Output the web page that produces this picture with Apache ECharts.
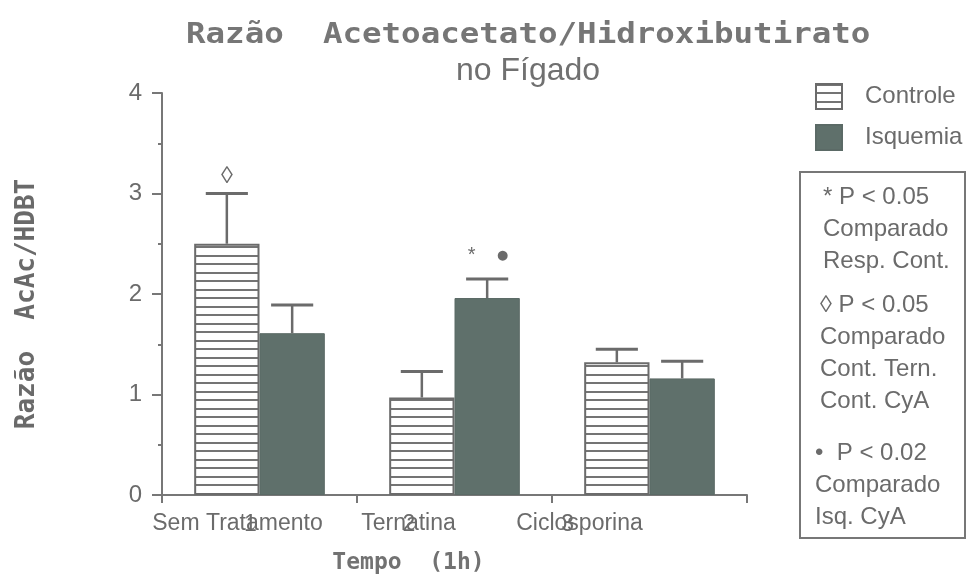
<!DOCTYPE html>
<html>
<head>
<meta charset="utf-8">
<script src="https://cdn.jsdelivr.net/npm/echarts@6/dist/echarts.min.js"></script>
<style>
  html, body { margin: 0; padding: 0; background: #fff; }
  #chart { width: 969px; height: 581px; }
</style>
</head>
<body>
<div id="chart"></div>
<script>
// Treatment groups and the tick numbers printed under them
const categories = ['Sem Tratamento', 'Ternatina', 'Ciclosporina'];
const tickNumbers = ['1', '2', '3'];

// AcAc/HDBT ratio (mean) and error (upper bar) per group
const controle = [2.50, 0.97, 1.32];
const controleErr = [0.50, 0.26, 0.13];
const isquemia = [1.61, 1.96, 1.16];
const isquemiaErr = [0.28, 0.19, 0.17];

// Significance markers drawn above the error bars
const controleMarks = ['◊', '', ''];
const isquemiaMarks = ['', '* ●', ''];

// Notes box text
const noteGroups = [
  ['* P < 0.05', 'Comparado', 'Resp. Cont.'],
  ['◊ P < 0.05', 'Comparado', 'Cont. Tern.', 'Cont. CyA'],
  ['•  P < 0.02', 'Comparado', 'Isq. CyA']
];

const INK = '#6b6b6b';
const SANS = '"Liberation Sans", Arial, sans-serif';
const MONO = '"DejaVu Sans Mono", monospace';

// horizontal-line hatch used for the Controle bars
const hatch = document.createElement('canvas');
hatch.width = 8; hatch.height = 17;
(function () {
  const c = hatch.getContext('2d');
  c.fillStyle = '#ffffff'; c.fillRect(0, 0, 8, 17);
  c.fillStyle = '#747474';
  c.fillRect(0, 0, 8, 2);
  c.fillRect(0, 8, 8, 2);
})();

function errorRenderer(sign, marks) {
  return function (params, api) {
    const i = api.value(0);
    const v = api.value(1);
    const e = api.value(2);
    const band = api.size([1, 0])[0];
    const dx = sign * band * 0.1675;
    const base = api.coord([i, v]);
    const top = api.coord([i, v + e]);
    const x = base[0] + dx;
    const half = band * 0.108;
    const children = [
      { type: 'line', shape: { x1: x, y1: base[1], x2: x, y2: top[1] },
        style: { stroke: INK, lineWidth: 2.5 } },
      { type: 'line', shape: { x1: x - half, y1: top[1], x2: x + half, y2: top[1] },
        style: { stroke: INK, lineWidth: 3 } }
    ];
    const tokens = (marks[params.dataIndex] || '').split(' ').filter(Boolean);
    tokens.forEach(function (t, k) {
      const tx = x + (k - (tokens.length - 1) / 2) * 31;
      let size = 24;
      if (t === '●') size = 23;
      if (t === '*') size = 20;
      children.push({
        type: 'text',
        x: tx, y: top[1] - (tokens.length > 1 ? 23 : 17),
        style: {
          text: t, fill: INK, font: size + 'px ' + SANS,
          align: 'center', verticalAlign: 'middle'
        }
      });
    });
    return { type: 'group', children: children };
  };
}

function noteTexts() {
  const lefts = [823, 820, 815];
  const tops = [197, 305, 453];
  const out = [];
  noteGroups.forEach(function (lines, g) {
    lines.forEach(function (s, k) {
      out.push({
        type: 'text', x: lefts[g], y: tops[g] + k * 32,
        style: { text: s, fill: INK, font: '24px ' + SANS, verticalAlign: 'middle', align: 'left' }
      });
    });
  });
  return out;
}

const chart = echarts.init(document.getElementById('chart'), null, { renderer: 'canvas' });

chart.setOption({
  animation: false,
  backgroundColor: '#ffffff',
  grid: [
    { left: 162, right: 222, top: 93, bottom: 86 },
    { left: 152, right: 304, top: 93, bottom: 86 },
    { left: 171, right: 322, top: 93, bottom: 86 }
  ],
  legend: {
    data: ['Controle', 'Isquemia'],
    orient: 'vertical',
    left: 810, top: 78,
    icon: 'rect',
    itemWidth: 26, itemHeight: 25, itemGap: 14,
    textStyle: { fontFamily: SANS, fontSize: 24, color: INK, padding: [0, 0, 0, 18] }
  },
  xAxis: [
    {
      type: 'category', gridIndex: 0, data: categories,
      axisLine: { show: true, lineStyle: { color: '#777', width: 2 } },
      axisTick: { show: true, length: 8, lineStyle: { color: '#777', width: 2 } },
      axisLabel: { show: false }
    },
    {
      type: 'category', gridIndex: 1, data: categories,
      axisLine: { show: false }, axisTick: { show: false },
      axisLabel: { interval: 0, margin: 17, fontFamily: SANS, fontSize: 23, color: INK },
      name: 'Tempo  (1h)', nameLocation: 'middle', nameGap: 57,
      nameTextStyle: { fontFamily: MONO, fontSize: 23, fontWeight: 'bold', color: '#727272' }
    },
    {
      type: 'category', gridIndex: 2, data: tickNumbers,
      axisLine: { show: false }, axisTick: { show: false },
      axisLabel: { interval: 0, margin: 18, fontFamily: SANS, fontSize: 23, color: INK }
    }
  ],
  yAxis: [
    {
      type: 'value', gridIndex: 0, min: 0, max: 4, interval: 1,
      axisLine: { show: true, lineStyle: { color: '#777', width: 2 } },
      axisTick: { show: true, length: 10, lineStyle: { color: '#777', width: 2 } },
      minorTick: { show: true, splitNumber: 2, length: 4, lineStyle: { color: '#777', width: 2 } },
      splitLine: { show: false },
      axisLabel: { margin: 20, fontFamily: SANS, fontSize: 24, color: INK },
      name: 'Razão  AcAc/HDBT', nameLocation: 'middle', nameGap: 122, nameRotate: 90,
      nameTextStyle: { fontFamily: MONO, fontSize: 26, fontWeight: 'bold', color: '#6a6a6a', padding: [0, 20, 0, 0] }
    },
    { type: 'value', gridIndex: 1, min: 0, max: 4, show: false },
    { type: 'value', gridIndex: 2, min: 0, max: 4, show: false }
  ],
  series: [
    {
      name: 'Controle', type: 'bar', xAxisIndex: 0, yAxisIndex: 0,
      data: controle, barGap: '0%', barCategoryGap: '33%',
      itemStyle: { color: { image: hatch, repeat: 'repeat' }, borderColor: '#6b6b6b', borderWidth: 2 }
    },
    {
      name: 'Isquemia', type: 'bar', xAxisIndex: 0, yAxisIndex: 0,
      data: isquemia, barGap: '0%', barCategoryGap: '33%',
      itemStyle: { color: '#5f706b', borderColor: '#5b6a66', borderWidth: 1 }
    },
    {
      name: 'Controle erro', type: 'custom', xAxisIndex: 0, yAxisIndex: 0, z: 5,
      renderItem: errorRenderer(-1, controleMarks),
      encode: { x: 0, y: 1 },
      data: categories.map(function (c, i) { return [i, controle[i], controleErr[i]]; })
    },
    {
      name: 'Isquemia erro', type: 'custom', xAxisIndex: 0, yAxisIndex: 0, z: 5,
      renderItem: errorRenderer(1, isquemiaMarks),
      encode: { x: 0, y: 1 },
      data: categories.map(function (c, i) { return [i, isquemia[i], isquemiaErr[i]]; })
    }
  ],
  graphic: [
    {
      type: 'text', x: 186, y: 22, scaleX: 1.16,
      style: { text: 'Razão  Acetoacetato/Hidroxibutirato', fill: '#767676', font: 'bold 28px ' + MONO }
    },
    {
      type: 'text', x: 456, y: 55,
      style: { text: 'no Fígado', fill: '#707070', font: '32px ' + SANS }
    },
    {
      type: 'rect', shape: { x: 800, y: 172, width: 165, height: 366 },
      style: { fill: 'none', stroke: '#777', lineWidth: 2 }
    },
    { type: 'group', children: noteTexts() }
  ]
});
</script>
</body>
</html>
